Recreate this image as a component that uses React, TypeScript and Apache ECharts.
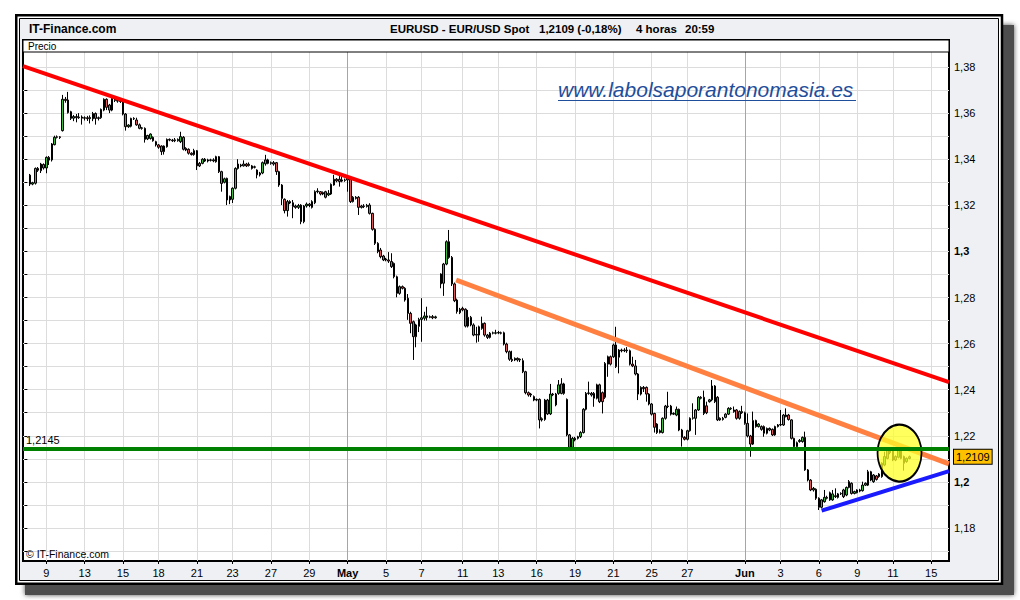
import React, { useEffect, useRef } from 'react';
import * as echarts from 'echarts';

// ---- data ----
const slotCount = 338;
const leadingEmpty = 2;

// [open, close, low, high]
const aprilCandles: number[][] = [
  [1.3331,1.3292,1.3284,1.3336],[1.3292,1.3298,1.3287,1.3302],[1.3296,1.3360,1.3290,1.3364],[1.3360,1.3352,1.3345,1.3366],
  [1.3350,1.3379,1.3340,1.3384],[1.3377,1.3362,1.3355,1.3382],[1.3362,1.3408,1.3339,1.3412],[1.3408,1.3396,1.3375,1.3414],
  [1.3397,1.3466,1.3390,1.3470],[1.3463,1.3495,1.3460,1.3502],[1.3495,1.3497,1.3490,1.3503],[1.3497,1.3494,1.3488,1.3500],
  [1.3524,1.3660,1.3520,1.3679],[1.3660,1.3655,1.3645,1.3670],[1.3657,1.3602,1.3598,1.3692],[1.3606,1.3577,1.3570,1.3610],
  [1.3578,1.3585,1.3565,1.3592],[1.3585,1.3580,1.3560,1.3596],[1.3580,1.3583,1.3575,1.3600],[1.3583,1.3578,1.3550,1.3590],
  [1.3578,1.3580,1.3568,1.3586],[1.3580,1.3576,1.3566,1.3588],[1.3576,1.3581,1.3555,1.3590],[1.3575,1.3598,1.3565,1.3605],
  [1.3598,1.3577,1.3550,1.3603],[1.3577,1.3580,1.3568,1.3585],[1.3580,1.3616,1.3575,1.3620],[1.3613,1.3660,1.3608,1.3664],
  [1.3660,1.3625,1.3613,1.3664],[1.3635,1.3613,1.3600,1.3640],[1.3613,1.3664,1.3608,1.3668],[1.3662,1.3655,1.3648,1.3666],
  [1.3655,1.3652,1.3645,1.3660],[1.3652,1.3650,1.3644,1.3657],[1.3650,1.3596,1.3590,1.3654],[1.3596,1.3541,1.3524,1.3600],
  [1.3541,1.3548,1.3536,1.3552],[1.3543,1.3577,1.3538,1.3580],[1.3577,1.3575,1.3570,1.3582],[1.3570,1.3549,1.3545,1.3580],
  [1.3549,1.3534,1.3530,1.3555],[1.3534,1.3536,1.3528,1.3540],[1.3534,1.3486,1.3472,1.3538],[1.3488,1.3503,1.3483,1.3506],
  [1.3490,1.3509,1.3485,1.3512],[1.3495,1.3480,1.3476,1.3499],[1.3476,1.3462,1.3455,1.3480],[1.3462,1.3452,1.3445,1.3466],
  [1.3457,1.3433,1.3418,1.3460],[1.3433,1.3457,1.3420,1.3460],[1.3454,1.3486,1.3450,1.3490],[1.3486,1.3483,1.3478,1.3490],
  [1.3483,1.3480,1.3475,1.3488],[1.3480,1.3484,1.3474,1.3492],[1.3480,1.3486,1.3476,1.3490],[1.3476,1.3498,1.3470,1.3519],
  [1.3495,1.3443,1.3438,1.3500],[1.3447,1.3440,1.3435,1.3452],[1.3443,1.3426,1.3420,1.3447],[1.3426,1.3420,1.3416,1.3430],
  [1.3420,1.3437,1.3415,1.3445],[1.3437,1.3371,1.3353,1.3440],[1.3382,1.3371,1.3366,1.3388],[1.3382,1.3400,1.3378,1.3404],
  [1.3392,1.3400,1.3388,1.3405],[1.3397,1.3392,1.3386,1.3402],[1.3395,1.3397,1.3390,1.3402],[1.3397,1.3393,1.3387,1.3404],
  [1.3389,1.3411,1.3385,1.3415],[1.3411,1.3346,1.3340,1.3414],[1.3346,1.3295,1.3259,1.3350],[1.3300,1.3315,1.3295,1.3320],
  [1.3317,1.3223,1.3201,1.3320],[1.3238,1.3223,1.3205,1.3242],[1.3226,1.3274,1.3210,1.3278],[1.3274,1.3360,1.3269,1.3365],
  [1.3360,1.3379,1.3355,1.3400],[1.3375,1.3371,1.3365,1.3380],[1.3371,1.3379,1.3368,1.3395],[1.3379,1.3371,1.3366,1.3384],
  [1.3373,1.3378,1.3368,1.3386],[1.3371,1.3360,1.3355,1.3375],[1.3365,1.3367,1.3360,1.3372],
];

const earlyMayCandles: number[][] = [
  [1.3353,1.3332,1.3317,1.3356],[1.3332,1.3340,1.3325,1.3345],[1.3340,1.3385,1.3335,1.3390],[1.3380,1.3397,1.3372,1.3419],
  [1.3397,1.3382,1.3378,1.3402],[1.3382,1.3385,1.3376,1.3390],[1.3385,1.3379,1.3372,1.3392],[1.3385,1.3346,1.3332,1.3388],
  [1.3346,1.3288,1.3280,1.3350],[1.3288,1.3230,1.3201,1.3292],[1.3226,1.3177,1.3165,1.3230],[1.3177,1.3216,1.3151,1.3223],
  [1.3216,1.3210,1.3205,1.3222],[1.3211,1.3194,1.3144,1.3223],[1.3197,1.3191,1.3185,1.3203],[1.3191,1.3199,1.3184,1.3206],
  [1.3201,1.3129,1.3118,1.3205],[1.3129,1.3197,1.3122,1.3201],[1.3197,1.3205,1.3190,1.3212],[1.3205,1.3199,1.3192,1.3210],
  [1.3191,1.3216,1.3186,1.3222],[1.3211,1.3259,1.3205,1.3265],[1.3259,1.3262,1.3252,1.3274],[1.3259,1.3249,1.3243,1.3262],
  [1.3249,1.3255,1.3244,1.3260],[1.3259,1.3235,1.3230,1.3263],[1.3245,1.3252,1.3240,1.3266],[1.3249,1.3291,1.3245,1.3295],
  [1.3288,1.3313,1.3285,1.3332],[1.3313,1.3306,1.3300,1.3318],[1.3313,1.3303,1.3281,1.3332],[1.3305,1.3310,1.3300,1.3325],
  [1.3310,1.3308,1.3302,1.3316],[1.3310,1.3317,1.3259,1.3322],[1.3313,1.3216,1.3210,1.3318],[1.3216,1.3235,1.3212,1.3240],
  [1.3235,1.3230,1.3225,1.3240],[1.3235,1.3191,1.3158,1.3240],[1.3191,1.3197,1.3186,1.3202],[1.3197,1.3195,1.3188,1.3205],
  [1.3195,1.3200,1.3190,1.3206],[1.3201,1.3165,1.3160,1.3209],[1.3165,1.3096,1.3090,1.3168],[1.3096,1.3035,1.3028,1.3100],
  [1.3035,1.2999,1.2992,1.3040],[1.3006,1.2977,1.2970,1.3015],[1.2980,1.2963,1.2958,1.2985],[1.2963,1.2967,1.2957,1.2972],
  [1.2963,1.2958,1.2950,1.2997],[1.2956,1.2934,1.2928,1.2992],[1.2948,1.2890,1.2883,1.2952],[1.2890,1.2818,1.2801,1.2895],
  [1.2818,1.2847,1.2812,1.2852],[1.2847,1.2840,1.2835,1.2852],[1.2840,1.2789,1.2782,1.2845],[1.2797,1.2731,1.2703,1.2815],
  [1.2731,1.2688,1.2645,1.2738],[1.2695,1.2630,1.2529,1.2700],[1.2630,1.2681,1.2584,1.2686],[1.2675,1.2705,1.2650,1.2712],
  [1.2705,1.2712,1.2608,1.2797],[1.2710,1.2720,1.2700,1.2738],[1.2720,1.2714,1.2700,1.2760],[1.2714,1.2717,1.2710,1.2722],
  [1.2717,1.2712,1.2706,1.2724],[1.2712,1.2716,1.2708,1.2721],
];

const lateMayCandles: number[][] = [
  [1.2902,1.2859,1.2840,1.2905],[1.2862,1.2945,1.2807,1.2950],[1.2945,1.3042,1.2940,1.3048],[1.3042,1.2974,1.2968,1.3093],
  [1.2974,1.2859,1.2850,1.2980],[1.2859,1.2786,1.2780,1.2865],[1.2789,1.2739,1.2730,1.2795],[1.2734,1.2749,1.2728,1.2755],
  [1.2753,1.2746,1.2740,1.2760],[1.2749,1.2676,1.2670,1.2753],[1.2714,1.2676,1.2670,1.2746],[1.2681,1.2714,1.2675,1.2720],
  [1.2681,1.2637,1.2632,1.2688],[1.2637,1.2640,1.2604,1.2673],[1.2637,1.2673,1.2608,1.2678],[1.2666,1.2688,1.2660,1.2717],
  [1.2688,1.2637,1.2630,1.2692],[1.2637,1.2627,1.2620,1.2642],[1.2627,1.2645,1.2622,1.2650],[1.2645,1.2647,1.2640,1.2652],
  [1.2645,1.2647,1.2640,1.2660],[1.2646,1.2648,1.2641,1.2655],[1.2647,1.2645,1.2640,1.2652],[1.2647,1.2598,1.2592,1.2652],
  [1.2598,1.2565,1.2558,1.2604],[1.2565,1.2532,1.2525,1.2570],[1.2532,1.2526,1.2520,1.2569],[1.2529,1.2536,1.2524,1.2540],
  [1.2536,1.2529,1.2522,1.2540],[1.2529,1.2532,1.2520,1.2536],[1.2526,1.2478,1.2472,1.2536],[1.2478,1.2387,1.2380,1.2482],
  [1.2387,1.2377,1.2370,1.2392],[1.2377,1.2381,1.2368,1.2386],[1.2370,1.2355,1.2350,1.2375],[1.2355,1.2358,1.2350,1.2362],
  [1.2358,1.2269,1.2232,1.2362],[1.2269,1.2274,1.2262,1.2280],[1.2271,1.2355,1.2265,1.2360],[1.2355,1.2295,1.2290,1.2360],
  [1.2295,1.2381,1.2290,1.2425],[1.2381,1.2378,1.2372,1.2386],[1.2381,1.2334,1.2328,1.2386],[1.2384,1.2421,1.2378,1.2442],
  [1.2384,1.2425,1.2380,1.2450],[1.2425,1.2384,1.2378,1.2430],[1.2358,1.2204,1.2198,1.2362],[1.2204,1.2150,1.2145,1.2208],
  [1.2150,1.2189,1.2145,1.2195],[1.2189,1.2182,1.2176,1.2195],[1.2189,1.2196,1.2184,1.2200],[1.2196,1.2214,1.2190,1.2220],
  [1.2214,1.2315,1.2210,1.2320],[1.2315,1.2384,1.2310,1.2390],[1.2384,1.2386,1.2378,1.2435],[1.2384,1.2377,1.2370,1.2390],
  [1.2384,1.2363,1.2326,1.2390],[1.2363,1.2421,1.2358,1.2426],[1.2421,1.2348,1.2342,1.2426],[1.2387,1.2348,1.2297,1.2392],
  [1.2367,1.2514,1.2360,1.2520],[1.2511,1.2543,1.2456,1.2548],[1.2543,1.2511,1.2505,1.2548],[1.2543,1.2594,1.2538,1.2600],
  [1.2594,1.2500,1.2494,1.2673],[1.2541,1.2572,1.2471,1.2576],[1.2572,1.2569,1.2562,1.2578],[1.2569,1.2572,1.2563,1.2580],
  [1.2572,1.2569,1.2560,1.2585],[1.2569,1.2511,1.2505,1.2574],[1.2511,1.2503,1.2498,1.2543],[1.2503,1.2468,1.2462,1.2529],
  [1.2468,1.2381,1.2355,1.2472],
];

const juneCandles: number[][] = [
  [1.2381,1.2410,1.2375,1.2415],[1.2410,1.2405,1.2390,1.2416],[1.2410,1.2381,1.2348,1.2414],[1.2381,1.2338,1.2332,1.2385],
  [1.2338,1.2294,1.2288,1.2342],[1.2297,1.2237,1.2214,1.2300],[1.2251,1.2214,1.2208,1.2255],[1.2214,1.2222,1.2210,1.2228],
  [1.2214,1.2276,1.2210,1.2280],[1.2276,1.2329,1.2270,1.2334],[1.2329,1.2327,1.2320,1.2391],[1.2329,1.2294,1.2288,1.2334],
  [1.2294,1.2297,1.2290,1.2302],[1.2290,1.2315,1.2285,1.2327],[1.2315,1.2225,1.2220,1.2318],[1.2225,1.2193,1.2153,1.2230],
  [1.2193,1.2185,1.2180,1.2198],[1.2185,1.2222,1.2180,1.2226],[1.2222,1.2276,1.2218,1.2280],[1.2276,1.2278,1.2270,1.2341],
  [1.2276,1.2312,1.2204,1.2316],[1.2312,1.2367,1.2308,1.2372],[1.2367,1.2363,1.2358,1.2372],[1.2367,1.2297,1.2290,1.2396],
  [1.2330,1.2300,1.2294,1.2348],[1.2348,1.2356,1.2344,1.2360],[1.2356,1.2416,1.2350,1.2442],[1.2416,1.2348,1.2342,1.2420],
  [1.2367,1.2269,1.2264,1.2372],[1.2269,1.2276,1.2265,1.2280],[1.2276,1.2271,1.2266,1.2282],[1.2280,1.2294,1.2276,1.2298],
  [1.2294,1.2319,1.2290,1.2324],[1.2319,1.2317,1.2312,1.2324],[1.2312,1.2305,1.2300,1.2327],[1.2312,1.2276,1.2270,1.2316],
  [1.2276,1.2305,1.2270,1.2310],[1.2305,1.2300,1.2295,1.2330],[1.2300,1.2254,1.2248,1.2305],[1.2254,1.2199,1.2193,1.2297],
  [1.2199,1.2164,1.2109,1.2204],[1.2164,1.2266,1.2160,1.2305],[1.2266,1.2240,1.2235,1.2270],[1.2240,1.2251,1.2236,1.2255],
  [1.2240,1.2228,1.2222,1.2245],[1.2240,1.2211,1.2196,1.2245],[1.2211,1.2232,1.2206,1.2236],[1.2232,1.2225,1.2220,1.2236],
  [1.2228,1.2204,1.2199,1.2232],[1.2204,1.2240,1.2200,1.2244],[1.2240,1.2247,1.2236,1.2251],[1.2247,1.2249,1.2242,1.2312],
  [1.2247,1.2290,1.2243,1.2295],[1.2283,1.2290,1.2280,1.2319],[1.2290,1.2271,1.2266,1.2295],[1.2269,1.2189,1.2184,1.2272],
  [1.2189,1.2153,1.2148,1.2192],[1.2153,1.2170,1.2148,1.2175],[1.2175,1.2180,1.2170,1.2186],[1.2175,1.2193,1.2170,1.2197],
  [1.2193,1.2052,1.2048,1.2218],[1.2052,1.2008,1.2002,1.2056],[1.2008,1.1965,1.1960,1.2012],[1.1965,1.1972,1.1958,1.1978],
  [1.1968,1.1929,1.1922,1.1972],[1.1929,1.1890,1.1878,1.1933],[1.1890,1.1922,1.1885,1.1926],[1.1914,1.1933,1.1910,1.1965],
  [1.1933,1.1929,1.1924,1.1940],[1.1953,1.1922,1.1918,1.1958],[1.1922,1.1948,1.1918,1.1965],[1.1940,1.1936,1.1930,1.1972],
  [1.1933,1.1948,1.1928,1.1952],[1.1948,1.1950,1.1943,1.1955],[1.1965,1.1936,1.1930,1.1970],[1.1943,1.1976,1.1938,1.1980],
  [1.1976,1.2001,1.1972,1.2008],[1.1994,1.1950,1.1945,1.1998],[1.1950,1.1958,1.1946,1.1962],[1.1953,1.1965,1.1950,1.1968],
  [1.1965,1.1960,1.1955,1.1970],[1.1962,1.1986,1.1958,1.2001],[1.1986,1.1994,1.1982,1.1998],[1.1986,1.2044,1.1982,1.2052],
  [1.2044,1.2008,1.2003,1.2048],[1.2001,1.2030,1.1996,1.2034],[1.2026,1.2011,1.2006,1.2030],[1.2023,1.2034,1.2018,1.2038],
  [1.2023,1.2081,1.2018,1.2085],[1.2073,1.2110,1.2068,1.2131],[1.2138,1.2102,1.2098,1.2145],[1.2127,1.2138,1.2120,1.2145],
  [1.2138,1.2095,1.2090,1.2142],[1.2095,1.2110,1.2090,1.2115],[1.2107,1.2138,1.2102,1.2153],[1.2138,1.2102,1.2098,1.2142],
  [1.2110,1.2081,1.2049,1.2114],[1.2088,1.2102,1.2083,1.2106],[1.2102,1.2109,1.2098,1.2114],
];

const dateLabels = ['9','13','15','18','21','23','27','29','May','5','7','11','13','16','19','21','25','27','Jun','3','6','9','11','15'];
const labelSlots = [8,22,36,49,63,76,90,104,118,132,145,160,173,187,201,215,229,242,263,276,290,304,317,331];
const monthLabels = ['May', 'Jun'];

const priceLabels = [1.18,1.2,1.22,1.24,1.26,1.28,1.3,1.32,1.34,1.36,1.38];
const priceTicks = [1.17,1.18,1.19,1.2,1.21,1.22,1.23,1.24,1.25,1.26,1.27,1.28,1.29,1.3,1.31,1.32,1.33,1.34,1.35,1.36,1.37,1.38,1.39];
const priceMin = 1.165683;
const priceMax = 1.391714;

// trend lines: [slot position, price]
const redTrend = [[-0.5, 1.3804], [337.5, 1.2433]];
const orangeTrend = [[157.6, 1.2876], [337.5, 1.2078]];
const blueTrend = [[291.0, 1.1875], [337.5, 1.2047]];
const supportLevel = 1.2145;
const lastPrice = 1.2109;
const highlightCenter = [319.45, 1.2125];

const FONT = '"Liberation Sans", Arial, sans-serif';

function buildOption() {
  const candles: any[] = [];
  for (let i = 0; i < leadingEmpty; i++) candles.push('-');
  aprilCandles.forEach((c) => candles.push(c));
  earlyMayCandles.forEach((c) => candles.push(c));
  candles.push('-');
  lateMayCandles.forEach((c) => candles.push(c));
  juneCandles.forEach((c) => candles.push(c));
  while (candles.length < slotCount) candles.push('-');

  const categories = candles.map((_, i) => 's' + i);
  const isLabelSlot = (index: number) => labelSlots.indexOf(index) >= 0;
  const fmtPrice = (v: number) => String(Math.round(v * 10000) / 10000).replace('.', ',');

  return {
    animation: false,
    backgroundColor: '#ffffff',
    textStyle: { fontFamily: FONT },
    grid: {
      left: 23, right: 71, top: 40, bottom: 39,
      show: true, backgroundColor: '#ffffff', borderColor: '#000000', borderWidth: 2,
    },
    xAxis: [
      {
        type: 'category', data: categories, boundaryGap: true,
        axisLine: { show: false },
        axisTick: { show: true, alignWithLabel: true, interval: isLabelSlot, length: 3, lineStyle: { color: '#000' } },
        axisLabel: {
          interval: isLabelSlot, margin: 6, color: '#000', fontSize: 11, fontFamily: FONT,
          formatter: (_v: string, index: number) => {
            const k = labelSlots.indexOf(index);
            if (k < 0) return '';
            const t = dateLabels[k];
            return monthLabels.indexOf(t) >= 0 ? '{b|' + t + '}' : t;
          },
          rich: { b: { fontWeight: 'bold', fontSize: 11, color: '#000', fontFamily: FONT } },
        },
        splitLine: { show: false },
      },
      { type: 'value', min: -0.5, max: slotCount - 0.5, show: false },
    ],
    yAxis: {
      type: 'value', position: 'right', min: priceMin, max: priceMax, splitNumber: 11, scale: true,
      axisLine: { show: false },
      axisTick: { show: true, length: 3, customValues: priceTicks, lineStyle: { color: '#000' } },
      axisLabel: {
        customValues: priceLabels,
        margin: 5, color: '#000', fontSize: 11, fontFamily: FONT,
        formatter: (v: number) => {
          const s = fmtPrice(v);
          return Math.abs(v - 1.3) < 1e-6 || Math.abs(v - 1.2) < 1e-6 ? '{b|' + s + '}' : s;
        },
        rich: { b: { fontWeight: 'bold', fontSize: 11, color: '#000', fontFamily: FONT } },
      },
      splitLine: { show: true, lineStyle: { color: '#dcdcdc', width: 1 } },
    },
    series: [
      {
        type: 'candlestick', name: 'EURUSD', xAxisIndex: 0, yAxisIndex: 0, data: candles,
        barWidth: 2, z: 2, silent: true,
        itemStyle: { color: '#3cbc3c', color0: '#e05555', borderColor: '#000', borderColor0: '#000', borderWidth: 1 },
        markLine: {
          silent: true, symbol: ['none', 'none'], z: 1, label: { show: false },
          data: labelSlots.map((slot, k) => ({
            xAxis: slot,
            lineStyle: { color: monthLabels.indexOf(dateLabels[k]) >= 0 ? '#a6a6a6' : '#dcdcdc', width: 1, type: 'solid' },
          })),
        },
      },
      {
        type: 'line', name: 'red', xAxisIndex: 1, yAxisIndex: 0, data: redTrend, symbol: 'none', z: 3, silent: true,
        lineStyle: { color: '#ff0000', width: 4 },
        markLine: {
          silent: true, symbol: ['none', 'none'], z: 6, precision: 4,
          data: [
            {
              yAxis: supportLevel,
              lineStyle: { color: '#008000', width: 4, type: 'solid' },
              label: { show: true, position: 'insideStartTop', formatter: fmtPrice(supportLevel), color: '#000', fontSize: 11, fontFamily: FONT, distance: 3 },
            },
            {
              yAxis: lastPrice,
              lineStyle: { color: 'rgba(0,0,0,0)', width: 1, type: 'solid' },
              label: {
                show: true, position: 'end', formatter: fmtPrice(lastPrice), color: '#000', fontSize: 11, fontFamily: FONT,
                backgroundColor: '#ffc000', borderColor: '#000', borderWidth: 1, padding: [2, 2, 1, 2], distance: 5,
              },
            },
          ],
        },
      },
      {
        type: 'line', name: 'orange', xAxisIndex: 1, yAxisIndex: 0, data: orangeTrend, symbol: 'none', z: 3, silent: true,
        lineStyle: { color: '#ff8040', width: 5 },
      },
      {
        type: 'line', name: 'blue', xAxisIndex: 1, yAxisIndex: 0, data: blueTrend, symbol: 'none', z: 3, silent: true,
        lineStyle: { color: '#1a1aff', width: 4 },
      },
      {
        type: 'scatter', name: 'highlight', xAxisIndex: 1, yAxisIndex: 0, data: [highlightCenter], z: 4, silent: true,
        symbol: 'circle', symbolSize: [44, 57],
        itemStyle: { color: 'rgba(255,255,40,0.75)', borderColor: '#000', borderWidth: 2, opacity: 1 },
      },
    ],
    graphic: [
      { type: 'rect', z: -30, silent: true, shape: { x: 25, y: 25, width: 989, height: 570 }, style: { fill: '#4d4d4d', shadowBlur: 5, shadowColor: '#4d4d4d' } },
      { type: 'rect', z: -29, silent: true, shape: { x: 16.25, y: 15.25, width: 985.75, height: 568.5 }, style: { fill: '#ffffff', stroke: '#000000', lineWidth: 2.5 } },
      { type: 'rect', z: -28, silent: true, shape: { x: 19.5, y: 18.5, width: 979, height: 562 }, style: { fill: '#eef0f4', stroke: '#000000', lineWidth: 1 } },
      { type: 'text', z: -27, silent: true, x: 29, y: 29, style: { text: 'IT-Finance.com', font: 'bold 12px ' + FONT, fill: '#000', textVerticalAlign: 'middle' } },
      { type: 'text', z: -27, silent: true, x: 390, y: 29, style: { text: 'EURUSD - EUR/USD Spot', font: 'bold 11.5px ' + FONT, fill: '#000', textVerticalAlign: 'middle' } },
      { type: 'text', z: -27, silent: true, x: 539, y: 29, style: { text: '1,2109 (-0,18%)', font: 'bold 11.5px ' + FONT, fill: '#000', textVerticalAlign: 'middle' } },
      { type: 'text', z: -27, silent: true, x: 636, y: 29, style: { text: '4 horas', font: 'bold 11.5px ' + FONT, fill: '#000', textVerticalAlign: 'middle' } },
      { type: 'text', z: -27, silent: true, x: 685, y: 29, style: { text: '20:59', font: 'bold 11.5px ' + FONT, fill: '#000', textVerticalAlign: 'middle' } },
      { type: 'rect', z: 50, silent: true, shape: { x: 23, y: 40, width: 926, height: 12 }, style: { fill: '#ffffff', stroke: '#000000', lineWidth: 1 } },
      { type: 'text', z: 51, silent: true, x: 28, y: 46.5, style: { text: 'Precio', font: '10px ' + FONT, fill: '#000', textVerticalAlign: 'middle' } },
      { type: 'text', z: 51, silent: true, x: 26, y: 554, style: { text: '© IT-Finance.com', font: '10.5px ' + FONT, fill: '#000', textVerticalAlign: 'middle' } },
      { type: 'text', z: 51, silent: true, x: 558, y: 89, style: { text: 'www.labolsaporantonomasia.es', font: 'italic 21px ' + FONT, fill: '#1f4e9b', textVerticalAlign: 'middle' } },
      { type: 'line', z: 51, silent: true, shape: { x1: 558, y1: 100.5, x2: 856, y2: 100.5 }, style: { stroke: '#1f4e9b', lineWidth: 1 } },
    ],
  };
}

export default function App() {
  const ref = useRef<HTMLDivElement>(null);
  useEffect(() => {
    document.body.style.margin = '0';
    const chart = echarts.init(ref.current as HTMLDivElement, null, { renderer: 'svg' });
    chart.setOption(buildOption() as any);
    return () => chart.dispose();
  }, []);
  return <div ref={ref} style={{ width: 1020, height: 600, position: 'absolute', left: 0, top: 0 }} />;
}
